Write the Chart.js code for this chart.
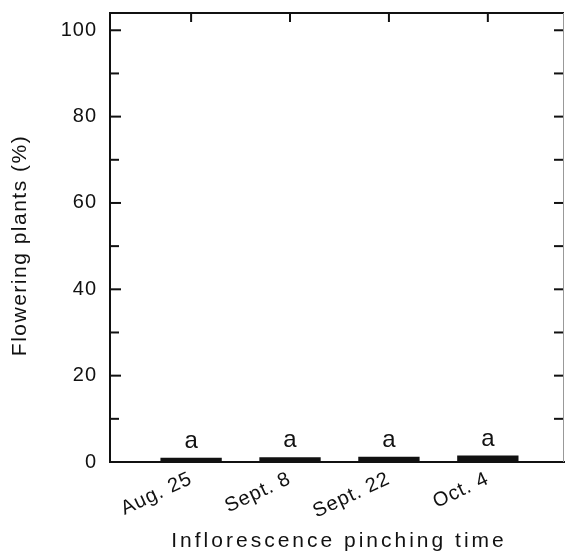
<!DOCTYPE html>
<html>
<head>
<meta charset="utf-8">
<script src="https://cdn.jsdelivr.net/npm/chart.js@4.4.1/dist/chart.umd.min.js"></script>
<style>
  html, body { margin: 0; padding: 0; background: #fff; }
  #wrap { width: 566px; height: 556px; }
</style>
</head>
<body>
<div id="wrap"><canvas id="chart"></canvas></div>
<script>
// data
const categories = ["Aug. 25", "Sept. 8", "Sept. 22", "Oct. 4"];
const positions = [1, 2, 3, 4];
const flowering = [1.0, 1.1, 1.2, 1.5];
const letters = ["a", "a", "a", "a"];
const yTicks = [0, 20, 40, 60, 80, 100];
const yMinorTicks = [10, 30, 50, 70, 90];
const rightTicks = [10, 20, 30, 40, 50, 60, 70, 80, 90, 100];

const FONT = "'Liberation Sans', Arial, sans-serif";

// letter spacing on the canvas (reset whenever canvas resizes)
const spacing = {
  id: "spacing",
  beforeLayout(chart) { chart.ctx.letterSpacing = "1px"; },
  beforeDraw(chart) { chart.ctx.letterSpacing = "1px"; },
};

// box edges, inward ticks, axis titles, letters
const frame = {
  id: "frame",
  afterDraw(chart) {
    const { ctx, chartArea: a, scales } = chart;
    const x = scales.x, y = scales.y;
    ctx.save();
    ctx.strokeStyle = "#111";
    ctx.lineWidth = 2;
    // top border
    ctx.beginPath();
    ctx.moveTo(a.left, a.top);
    ctx.lineTo(a.right, a.top);
    ctx.stroke();
    // top ticks
    positions.forEach((p) => {
      const px = x.getPixelForValue(p);
      ctx.beginPath();
      ctx.moveTo(px, a.top);
      ctx.lineTo(px, a.top + 9);
      ctx.stroke();
    });
    // left ticks
    yTicks.forEach((v) => {
      const py = y.getPixelForValue(v);
      if (v === 0) return;
      ctx.beginPath();
      ctx.moveTo(a.left, py);
      ctx.lineTo(a.left + 11, py);
      ctx.stroke();
    });
    yMinorTicks.forEach((v) => {
      const py = y.getPixelForValue(v);
      ctx.beginPath();
      ctx.moveTo(a.left, py);
      ctx.lineTo(a.left + 9, py);
      ctx.stroke();
    });
    // right ticks
    rightTicks.forEach((v) => {
      const py = y.getPixelForValue(v);
      ctx.beginPath();
      ctx.moveTo(a.right, py);
      ctx.lineTo(a.right - 10, py);
      ctx.stroke();
    });
    // right border, faint
    ctx.strokeStyle = "#999";
    ctx.lineWidth = 1;
    ctx.beginPath();
    ctx.moveTo(a.right - 0.5, a.top);
    ctx.lineTo(a.right - 0.5, a.bottom);
    ctx.stroke();

    // letters over the bars
    ctx.fillStyle = "#111";
    ctx.font = "24px " + FONT;
    ctx.letterSpacing = "0px";
    ctx.textAlign = "center";
    ctx.textBaseline = "alphabetic";
    chart.getDatasetMeta(0).data.forEach((bar, i) => {
      ctx.fillText(letters[i], bar.x, bar.y - 10);
    });

    // x title
    ctx.font = "21px " + FONT;
    ctx.letterSpacing = "3px";
    ctx.fillText("Inflorescence pinching time", (a.left + a.right) / 2 + 2, 547);

    // y title
    ctx.translate(26, (a.top + a.bottom) / 2 + 8);
    ctx.rotate(-Math.PI / 2);
    ctx.font = "21px " + FONT;
    ctx.letterSpacing = "1.5px";
    ctx.fillText("Flowering plants (%)", 0, 0);
    ctx.restore();
  },
};

new Chart(document.getElementById("chart"), {
  type: "bar",
  data: {
    datasets: [
      {
        data: positions.map((p, i) => ({ x: p, y: flowering[i] })),
        backgroundColor: "#111",
        borderWidth: 0,
        barPercentage: 0.62,
        categoryPercentage: 1,
      },
    ],
  },
  options: {
    responsive: true,
    maintainAspectRatio: false,
    animation: false,
    layout: { padding: { top: 13, right: 2, left: 0, bottom: 0 } },
    plugins: { legend: { display: false }, tooltip: { enabled: false } },
    scales: {
      x: {
        type: "linear",
        offset: false,
        min: 0.18,
        max: 4.77,
        grid: { display: false, drawTicks: false, offset: false },
        border: { color: "#111", width: 2 },
        afterBuildTicks: (s) => { s.ticks = positions.map((v) => ({ value: v })); },
        afterFit: (s) => { s.height = 94; s.paddingLeft = 0; s.paddingRight = 0; },
        ticks: {
          autoSkip: false,
          minRotation: 25,
          maxRotation: 25,
          padding: 5,
          color: "#111",
          font: { family: FONT, size: 20 },
          callback: (v) => categories[positions.indexOf(v)],
        },
      },
      y: {
        min: 0,
        max: 104,
        grid: { display: false, drawTicks: false },
        border: { color: "#111", width: 2 },
        afterBuildTicks: (s) => { s.ticks = yTicks.map((v) => ({ value: v })); },
        afterFit: (s) => { s.width = 110; s.paddingTop = 0; s.paddingBottom = 0; },
        ticks: {
          padding: 13,
          color: "#111",
          font: { family: FONT, size: 20 },
        },
      },
    },
  },
  plugins: [spacing, frame],
});
</script>
</body>
</html>
